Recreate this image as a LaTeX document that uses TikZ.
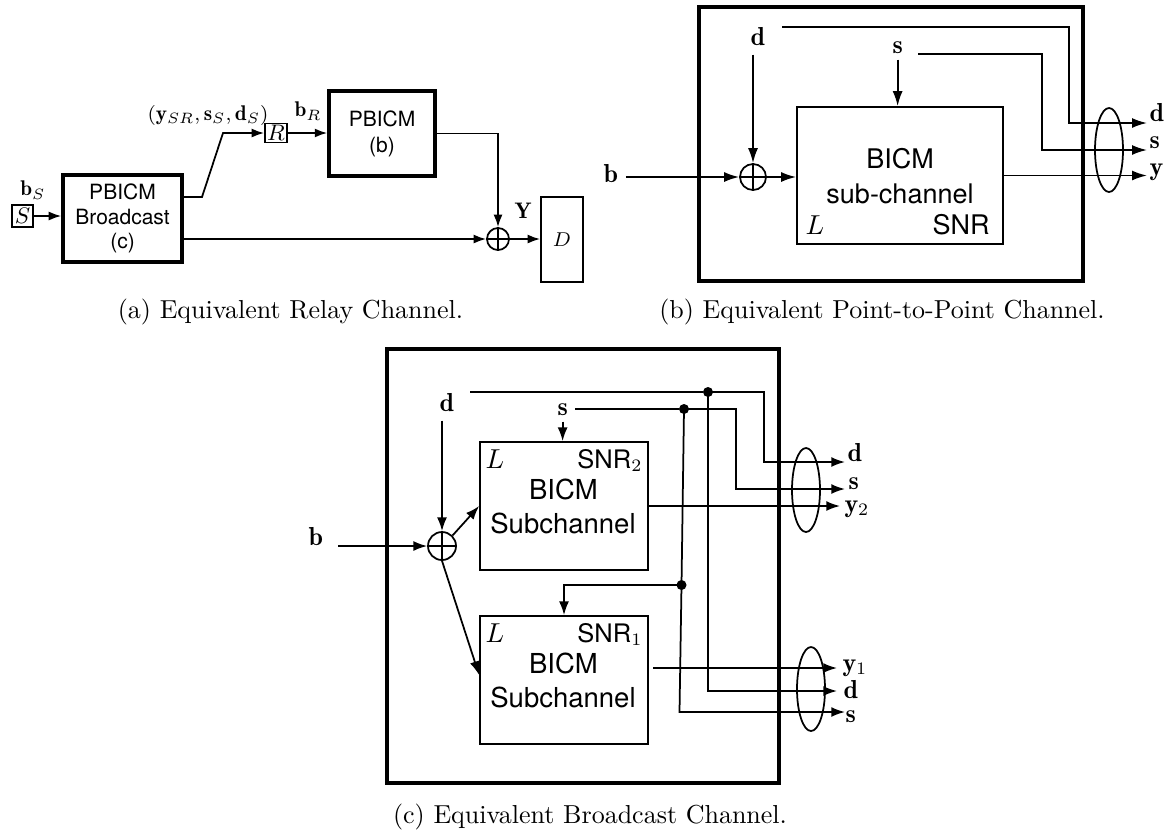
\documentclass[tikz,border=0pt]{standalone}
\usepackage{fontspec}
\setsansfont{TeX Gyre Heros}
\usetikzlibrary{arrows.meta,shapes.geometric}
\begin{document}
\begin{tikzpicture}[x=0.4pt,y=-0.4pt,
  line/.style={line width=0.7pt},
  arrA/.style={line width=0.7pt,-{Latex[length=5pt,width=3.6pt]}},
  arrB/.style={line width=0.7pt,-{Latex[length=6pt,width=4pt]}},
  arrC/.style={line width=0.7pt,-{Latex[length=5.5pt,width=4pt]}},
  thickbox/.style={draw,line width=1.4pt,inner sep=0pt,align=center},
  thinbox/.style={draw,line width=0.7pt,inner sep=0pt,align=center},
  sumnode/.style={draw,circle,line width=0.7pt,inner sep=0pt},
  grp/.style={draw,ellipse,line width=0.7pt,inner sep=0pt,minimum width=11.2pt,minimum height=33.6pt},
  dotn/.style={fill,circle,inner sep=0pt,minimum size=4pt},
  capt/.style={font=\fontsize{10.4}{12}\selectfont,anchor=base,inner sep=0pt},
  lblA/.style={font=\fontsize{8.5}{10}\selectfont,inner sep=0pt},
  lbl/.style={font=\fontsize{10.4}{12}\selectfont,inner sep=0pt,anchor=base west},
  sfB/.style={font=\sffamily\fontsize{10.8}{13}\selectfont,inner sep=0pt},
  sfC/.style={font=\sffamily\fontsize{11}{13}\selectfont,inner sep=0pt},
  sfCs/.style={font=\sffamily\fontsize{10.2}{12}\selectfont,inner sep=0pt}
]
\useasboundingbox (0,0) rectangle (1172,836);

% ---------------- (a) ----------------
\node[thinbox,minimum width=8.4pt,minimum height=8.8pt,font=\fontsize{9}{10}\selectfont] (S) at (22.5,216) {$S$};
\node[lblA] (bS) at (33,190) {$\mathbf{b}_S$};
\node[thickbox,minimum width=47.6pt,minimum height=34.8pt,font=\sffamily\fontsize{8.4}{9.8}\selectfont] (Bc) at (122.5,218.5) {PBICM\\Broadcast\\(c)};
\draw[arrA] (S.east) -- (S.east -| Bc.west);
\node[thinbox,minimum width=8.8pt,minimum height=7.6pt,font=\fontsize{9}{10}\selectfont] (R) at (276,133) {$R$};
\node[lblA] (tup) at (208,115) {$(\mathbf{y}_{SR},\mathbf{s}_S,\mathbf{d}_S)$};
\coordinate (a1) at (202,197);
\coordinate (a2) at (223,133);
\draw[arrA] ([yshift=8.6pt]Bc.east) -- (a1) -- (a2) -- (R.west);
\node[thickbox,minimum width=42.4pt,minimum height=34pt,font=\sffamily\fontsize{8.4}{10.4}\selectfont] (Pb) at (382,133.5) {PBICM\\(b)};
\draw[arrA] (R.east) -- (R.east -| Pb.west);
\node[lblA] (bR) at (308,111) {$\mathbf{b}_R$};
\node[sumnode,minimum size=8.8pt] (oA) at (498,239) {};
\draw[line] (oA.north) -- (oA.south) (oA.west) -- (oA.east);
\draw[arrA] (Pb.east) -| (oA.north);
\draw[arrA] ([yshift=-8.2pt]Bc.east) -- (oA.west);
\node[lblA,font=\fontsize{9}{10}\selectfont] (Y) at (523,211) {$\mathbf{Y}$};
\node[thinbox,minimum width=16.8pt,minimum height=34pt,font=\fontsize{8.5}{10}\selectfont] (D) at (562,239.5) {$D$};
\draw[arrA] (oA.east) -- (oA.east -| D.west);
\node[capt] (capA) at (290.5,318) {(a) Equivalent Relay Channel.};

% ---------------- (b) ----------------
\node[thickbox,line width=1.6pt,minimum width=153.6pt,minimum height=109.6pt] (outB) at (891,144) {};
\node[lbl] (dB) at (750,45) {$\mathbf{d}$};
\node[lbl] (sB) at (892,53) {$\mathbf{s}$};
\node[lbl] (bB) at (603,182) {$\mathbf{b}$};
\node[sumnode,minimum size=10.4pt] (oB) at (753,177) {};
\draw[line] (oB.north) -- (oB.south) (oB.west) -- (oB.east);
\node[thinbox,minimum width=82.4pt,minimum height=54.8pt] (chB) at (900,175.5) {};
\node[sfB,anchor=base] (tB1) at (900,168) {BICM};
\node[sfB,anchor=base] (tB2) at (900,203) {sub-channel};
\node[inner sep=0pt,anchor=base west,font=\fontsize{10.8}{13}\selectfont] (LB) at (805,234) {$L$};
\node[sfB,anchor=base east] (snrB) at (990,234) {SNR};
\draw[arrB] ([yshift=-3.6pt]oB.north |- dB.south) -- (oB.north);
\draw[arrB] ([yshift=-2.4pt]sB.south) -- (sB.south |- chB.north);
\draw[arrB] ([xshift=3pt]bB.east |- oB.west) -- (oB.west);
\draw[arrB] (oB.east) -- (oB.east -| chB.west);
\coordinate (dBs) at (782,27);
\coordinate (sBs) at (918,54);
\coordinate (dBt) at (1147,123);
\coordinate (sBt) at (1147,150);
\coordinate (yBt) at (1147,175.5);
\draw[arrB] (dBs) -| (1069,123) -- (dBt);
\draw[arrB] (sBs) -| (1042,150) -- (sBt);
\draw[arrB] (chB.east) -- (yBt);
\node[grp] (eB) at (1109,150) {};
\node[lbl] (dBo) at (1149,121) {$\mathbf{d}$};
\node[lbl] (sBo) at (1149,148) {$\mathbf{s}$};
\node[lbl] (yBo) at (1149,175) {$\mathbf{y}$};
\node[capt] (capB) at (882,318) {(b) Equivalent Point-to-Point Channel.};

% ---------------- (c) ----------------
\node[thickbox,line width=1.6pt,minimum width=156.8pt,minimum height=173.6pt] (outC) at (583,566) {};
\node[lbl] (dC) at (439,411) {$\mathbf{d}$};
\node[lbl] (sC) at (557,415) {$\mathbf{s}$};
\node[lbl] (bC) at (308,545) {$\mathbf{b}$};
\node[sumnode,minimum size=11.2pt] (oC) at (442,546) {};
\draw[line] (oC.north) -- (oC.south) (oC.west) -- (oC.east);
\node[thinbox,minimum width=67.2pt,minimum height=51.2pt] (b2) at (564,506) {};
\node[thinbox,minimum width=67.2pt,minimum height=51.2pt] (b1) at (564,680) {};
\node[inner sep=0pt,anchor=base west,font=\fontsize{10.8}{13}\selectfont] (L2) at (485,468) {$L$};
\node[sfCs,anchor=base east] (snr2) at (643,468) {SNR$_2$};
\node[sfC,anchor=base] (t21) at (563.5,499) {BICM};
\node[sfC,anchor=base] (t22) at (563,533) {Subchannel};
\node[inner sep=0pt,anchor=base west,font=\fontsize{10.8}{13}\selectfont] (L1) at (485,642) {$L$};
\node[sfCs,anchor=base east] (snr1) at (643,642) {SNR$_1$};
\node[sfC,anchor=base] (t11) at (563.5,673) {BICM};
\node[sfC,anchor=base] (t12) at (563,707) {Subchannel};

\draw[arrC] ([yshift=-3.6pt]oC.north |- dC.south) -- (oC.north);
\draw[arrC] ([yshift=-2.4pt]sC.south) -- (sC.south |- b2.north);
\draw[arrC] ([xshift=6pt]bC.east |- oC.west) -- (oC.west);
\draw[arrC] (oC.45) -- (b2.west);
\draw[arrC] (oC.south) -- ([yshift=2pt]b1.west);

\coordinate (dCs) at (470,392);
\coordinate (sCs) at (575,409);
\node[dotn] (dd) at (708,392) {};
\node[dotn] (ds) at (684,409) {};
\node[dotn] (ds2) at (681.5,585) {};
\coordinate (dCt) at (845,462);
\coordinate (sCt) at (845,489);
\coordinate (y2t) at (840,506);
\coordinate (y1s) at (653,668);
\coordinate (y1t) at (837,668);
\coordinate (d1t) at (837,691);
\coordinate (s1t) at (845,712);
\draw[line] (dCs) -- (dd);
\draw[arrC] (dd.center) -| (764,462) -- (dCt);
\draw[line] (sCs) -- (ds);
\draw[arrC] (ds.center) -| (736,489) -- (sCt);
\draw[arrC] (b2.east) -- (y2t);
\draw[arrC] (dd.center) |- (d1t);
\draw[line] (ds.center) -- (ds2.center);
\draw[arrC] (ds2.center) -- (679.5,712) -- (s1t);
\draw[arrC] (ds2.center) -| (b1.north);
\draw[arrC] (y1s) -- (y1t);
\node[grp] (eC2) at (806,490) {};
\node[grp] (eC1) at (811,689) {};
\node[lbl] (dCo) at (847,461) {$\mathbf{d}$};
\node[lbl] (sCo) at (848,489) {$\mathbf{s}$};
\node[lbl] (y2o) at (844,512) {$\mathbf{y}_2$};
\node[lbl] (y1o) at (842,671) {$\mathbf{y}_1$};
\node[lbl] (d1o) at (843,698) {$\mathbf{d}$};
\node[lbl] (s1o) at (845,722) {$\mathbf{s}$};
\node[capt] (capC) at (590,823) {(c) Equivalent Broadcast Channel.};
\end{tikzpicture}
\end{document}
